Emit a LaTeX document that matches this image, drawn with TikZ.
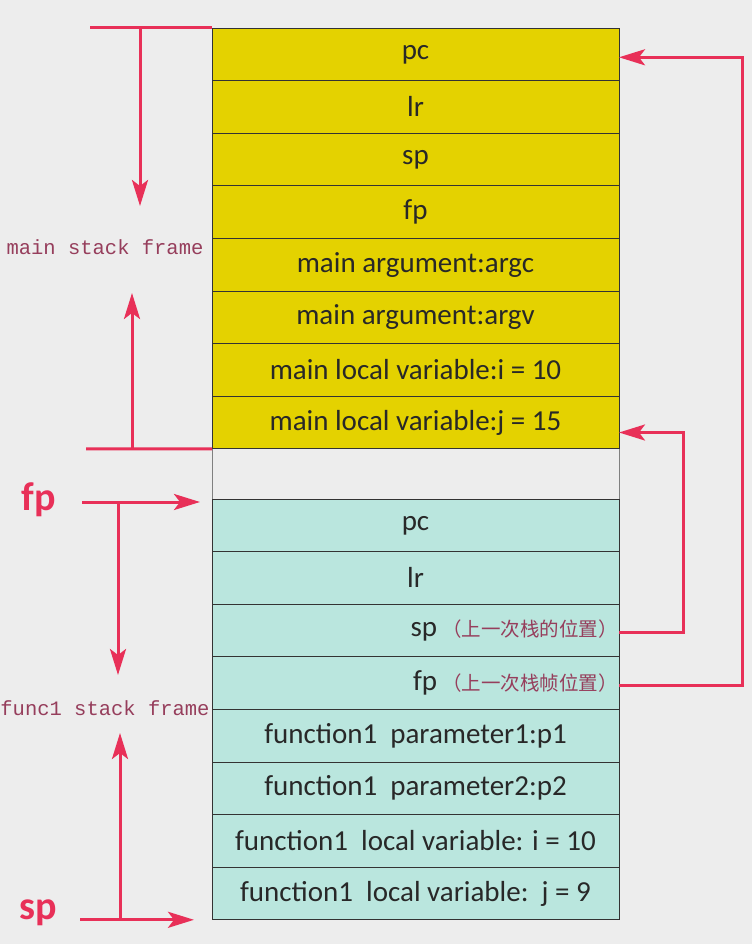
\documentclass[tikz,border=0pt]{standalone}
\usepackage{fontspec}
\setmainfont{Carlito}
\setmonofont{Liberation Mono}
\newfontfamily\cjk{Noto Sans CJK SC}
\usetikzlibrary{arrows.meta,positioning}
\definecolor{stackyellow}{RGB}{228,210,0}
\definecolor{stackcyan}{RGB}{186,230,222}
\definecolor{ptrred}{RGB}{232,48,88}
\definecolor{notemaroon}{RGB}{150,62,92}
\definecolor{bggrey}{RGB}{237,237,237}
\definecolor{slottext}{RGB}{40,40,40}

\tikzset{
  slot/.style={draw=black!80, line width=0.8pt, minimum width=407pt, minimum height=52.6pt,
    inner sep=0pt, outer sep=0pt, font=\fontsize{29}{30}\selectfont, text=slottext},
  mainslot/.style={slot, fill=stackyellow},
  funcslot/.style={slot, fill=stackcyan},
  noteslot/.style={funcslot, text width=404pt, align=right},
  ptr/.style={ptrred, line width=3pt, -{Stealth[length=26pt,width=16pt,inset=6pt]}},
  bar/.style={ptrred, line width=3pt},
  framelabel/.style={font=\ttfamily\fontsize{20.5}{22}\selectfont, text=notemaroon, inner sep=0pt},
  reglabel/.style={font=\bfseries\fontsize{40}{42}\selectfont, text=ptrred, inner sep=0pt},
}
\newcommand{\prevnote}[1]{{\cjk\fontsize{19.5}{21}\selectfont\color{notemaroon}#1}}

\begin{document}
\begin{tikzpicture}[x=1pt, y=-1pt]
\useasboundingbox[fill=bggrey] (0,0) rectangle (752,944);

% main stack frame
\node[mainslot] (m1) at (415.5,54.3) {pc};
\foreach \i/\j/\txt in {2/1/lr, 3/2/sp, 4/3/fp, 5/4/main argument:argc, 6/5/main argument:argv,
                        7/6/main local variable:i = 10, 8/7/main local variable:j = 15}{
  \node[mainslot, below=0pt of m\j] (m\i) {\txt};
}
\node[slot, draw=none, minimum height=50.2pt, below=0pt of m8] (gap) {};
\draw[black!50, line width=0.8pt] (gap.north west) -- (gap.south west);
\draw[black!50, line width=0.8pt] (gap.north east) -- (gap.south east);

% func1 stack frame
\node[funcslot, below=0pt of gap] (f1) {pc};
\node[funcslot, below=0pt of f1] (f2) {lr};
\node[noteslot, below=0pt of f2] (f3) {sp\,\prevnote{（上一次栈的位置）}};
\node[noteslot, below=0pt of f3] (f4) {fp\,\prevnote{（上一次栈帧位置）}};
\foreach \i/\j/\txt in {5/4/function1\ \ parameter1:p1, 6/5/function1\ \ parameter2:p2,
                        7/6/function1\ \ local variable: i = 10, 8/7/function1\ \ local variable:\ \ j = 9}{
  \node[funcslot, below=0pt of f\j] (f\i) {\txt};
}

% saved registers point back
\coordinate (fpbus) at (742,0);
\coordinate (spbus) at (683,0);
\draw[ptr] ([yshift=-2pt]f4.east) -- ([yshift=-2pt]f4.east -| fpbus) -- ([yshift=-3pt]m1.east -| fpbus) -- ([yshift=-3pt]m1.east);
\draw[ptr] ([yshift=-2pt]f3.east) -- ([yshift=-2pt]f3.east -| spbus) -- ([yshift=-10pt]m8.east -| spbus) -- ([yshift=-10pt]m8.east);

% main frame extent
\node[framelabel] (mlabel) at (105,247) {main stack frame};
\coordinate (mtop) at (90,28);
\coordinate (mdown) at (140,28);
\coordinate (mdownend) at (140,206);
\draw[bar] (mtop) -- (m1.north west);
\draw[ptr] (mdown) -- (mdownend);
\coordinate (mbot) at (86,448.8);
\coordinate (mup) at (132,448.8);
\coordinate (mupend) at (132,293);
\draw[bar] (mbot) -- (m8.south west);
\draw[ptr] (mup) -- (mupend);

% func1 frame extent
\node[reglabel] (fpreg) at (39,500) {fp};
\coordinate (fpstart) at (82,502);
\coordinate (fpend) at (200,502);
\draw[ptr] (fpstart) -- (fpend);
\coordinate (fdown) at (118,502);
\coordinate (fdownend) at (118,675);
\draw[ptr] (fdown) -- (fdownend);
\node[framelabel] (flabel) at (105,708) {func1 stack frame};
\node[reglabel] (spreg) at (38,913) {sp};
\coordinate (spstart) at (80,919.8);
\coordinate (spend) at (194,919.8);
\draw[ptr] (spstart) -- (spend);
\coordinate (fup) at (120,919.8);
\coordinate (fupend) at (120,733);
\draw[ptr] (fup) -- (fupend);
\end{tikzpicture}
\end{document}
